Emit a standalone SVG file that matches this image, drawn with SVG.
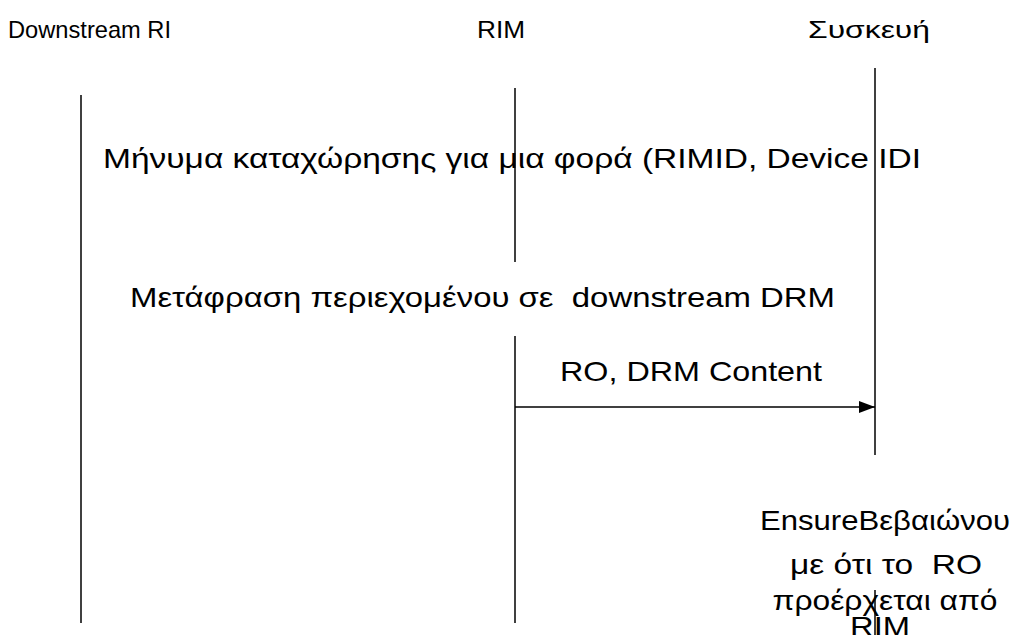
<svg xmlns="http://www.w3.org/2000/svg" width="1015" height="635" viewBox="0 0 1015 635">
  <style>
    text { font-family: "Liberation Sans", "DejaVu Sans", sans-serif; font-size: 28px; fill: #000; white-space: pre; }
    .head { font-size: 24px; }
    .life { stroke: #000; stroke-width: 1.5; fill: none; }
    .msg { stroke: #000; stroke-width: 1.5; fill: none; }
  </style>
  <defs>
    <marker id="arrow" viewBox="0 0 16 12" refX="16" refY="6" markerWidth="16" markerHeight="12" markerUnits="userSpaceOnUse" orient="auto">
      <path d="M0,0 L16,6 L0,12 Z" fill="#000"/>
    </marker>
  </defs>
  <rect width="1015" height="635" fill="#fff"/>

  <!-- participants -->
  <g id="downstream-ri">
    <text class="head" x="8" y="38" textLength="163" lengthAdjust="spacingAndGlyphs">Downstream RI</text>
    <line class="life" x1="81" y1="95" x2="81" y2="623"/>
  </g>
  <g id="rim">
    <text class="head" x="477" y="38" textLength="48" lengthAdjust="spacingAndGlyphs">RIM</text>
    <line class="life" x1="515" y1="88" x2="515" y2="262"/>
    <line class="life" x1="515" y1="336" x2="515" y2="623"/>
  </g>
  <g id="device">
    <text class="head" x="808" y="38" textLength="122" lengthAdjust="spacingAndGlyphs">Συσκευή</text>
    <line class="life" x1="875" y1="68" x2="875" y2="455"/>
    <line class="life" x1="875" y1="590" x2="875" y2="635"/>
  </g>

  <!-- messages -->
  <g id="connectors">
    <line class="msg" x1="515" y1="407" x2="875" y2="407" marker-end="url(#arrow)"/>
  </g>

  <g id="labels">
    <text x="103" y="168" textLength="818" lengthAdjust="spacingAndGlyphs">Μήνυμα καταχώρησης για μια φορά (RIMID, Device IDI</text>
    <text x="130" y="307" textLength="705" lengthAdjust="spacingAndGlyphs">Μετάφραση περιεχομένου σε  downstream DRM</text>
    <text x="560" y="381" textLength="262" lengthAdjust="spacingAndGlyphs">RO, DRM Content</text>
  </g>

  <g id="note" text-anchor="middle">
    <text x="885" y="530" textLength="250" lengthAdjust="spacingAndGlyphs">EnsureΒεβαιώνου</text>
    <text x="886" y="574" textLength="192" lengthAdjust="spacingAndGlyphs">με ότι το  RO</text>
    <text x="885" y="610" textLength="225" lengthAdjust="spacingAndGlyphs">προέρχεται από</text>
    <text x="880" y="636" textLength="60" lengthAdjust="spacingAndGlyphs">RIM</text>
  </g>
</svg>
